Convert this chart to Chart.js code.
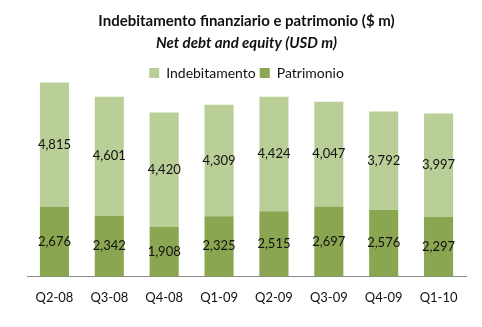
<!DOCTYPE html>
<html>
<head>
<meta charset="utf-8">
<script src="https://cdn.jsdelivr.net/npm/chart.js@4.4.1/dist/chart.umd.min.js"></script>
<style>
  html, body { margin: 0; padding: 0; background: #fff; }
  #wrap { width: 482px; height: 327px; }
</style>
</head>
<body>
<div id="wrap"><canvas id="debtChart"></canvas></div>
<script>
const quarters = ['Q2-08', 'Q3-08', 'Q4-08', 'Q1-09', 'Q2-09', 'Q3-09', 'Q4-09', 'Q1-10'];
const patrimonio = [2676, 2342, 1908, 2325, 2515, 2697, 2576, 2297];
const indebitamento = [4815, 4601, 4420, 4309, 4424, 4047, 3792, 3997];

const fontFamily = 'Lato, "Open Sans", sans-serif';

// values written in the middle of each segment
const segmentLabels = {
    id: 'segmentLabels',
    afterDatasetsDraw(chart) {
        const ctx = chart.ctx;
        ctx.save();
        ctx.font = '13px ' + fontFamily;
        ctx.fillStyle = '#111';
        ctx.textAlign = 'center';
        ctx.textBaseline = 'middle';
        chart.data.datasets.forEach((ds, i) => {
            chart.getDatasetMeta(i).data.forEach((bar, j) => {
                const mid = (bar.y + bar.base) / 2;
                ctx.fillText(ds.data[j].toLocaleString('en-US'), bar.x, mid);
            });
        });
        ctx.restore();
    }
};

new Chart(document.getElementById('debtChart'), {
    type: 'bar',
    data: {
        labels: quarters,
        datasets: [
            { label: 'Patrimonio', data: patrimonio, backgroundColor: '#8ba650' },
            { label: 'Indebitamento', data: indebitamento, backgroundColor: '#bacf98' }
        ]
    },
    options: {
        responsive: true,
        maintainAspectRatio: false,
        animation: false,
        devicePixelRatio: 1,
        layout: { padding: { left: 27, right: 16, top: 0, bottom: 7 } },
        datasets: { bar: { categoryPercentage: 1, barPercentage: 0.53, clip: false } },
        scales: {
            x: {
                stacked: true,
                grid: { display: false, drawTicks: false },
                border: { color: '#888', width: 1 },
                ticks: { color: '#111', font: { family: fontFamily, size: 13 }, padding: 14 }
            },
            y: {
                stacked: true,
                display: false,
                min: 0,
                max: 7200
            }
        },
        plugins: {
            title: {
                display: true,
                text: 'Indebitamento finanziario e patrimonio ($ m)',
                color: '#111',
                font: { family: fontFamily, size: 15, weight: 'bold' },
                padding: { top: 12, bottom: 2 }
            },
            subtitle: {
                display: true,
                text: 'Net debt and equity (USD m)',
                color: '#111',
                font: { family: fontFamily, size: 15, weight: 'bold', style: 'italic' },
                padding: { top: 2, bottom: 10 }
            },
            legend: {
                reverse: true,
                labels: {
                    color: '#111',
                    font: { family: fontFamily, size: 14 },
                    boxWidth: 10,
                    boxHeight: 10,
                    padding: 4
                }
            },
            tooltip: { enabled: false }
        }
    },
    plugins: [segmentLabels]
});
</script>
</body>
</html>
